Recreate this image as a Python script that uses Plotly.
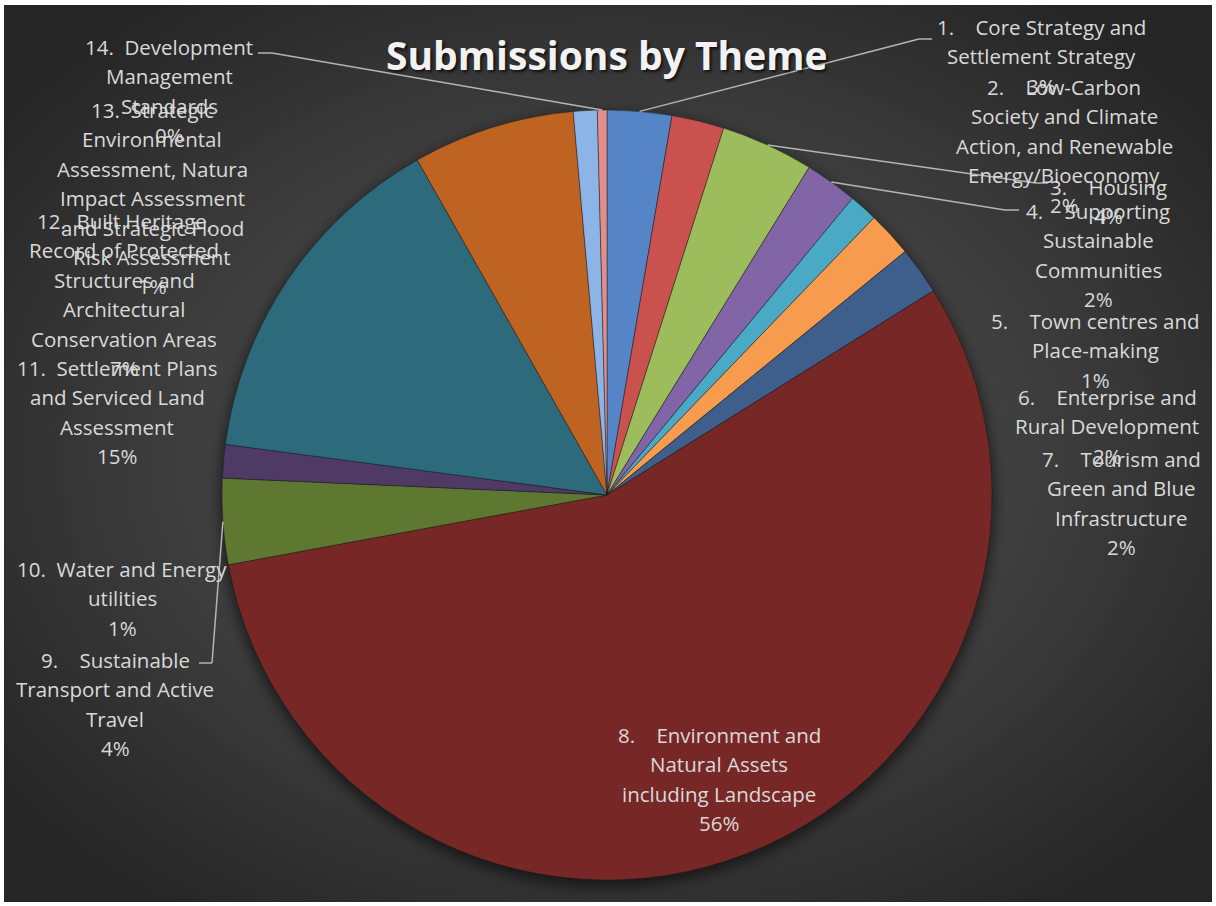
import base64
import math
import plotly.graph_objects as go

# ---------------- data ----------------
categories = [
    "1. Core Strategy and Settlement Strategy",
    "2. Low-Carbon Society and Climate Action, and Renewable Energy/Bioeconomy",
    "3. Housing",
    "4. Supporting Sustainable Communities",
    "5. Town centres and Place-making",
    "6. Enterprise and Rural Development",
    "7. Tourism and Green and Blue Infrastructure",
    "8. Environment and Natural Assets including Landscape",
    "9. Sustainable Transport and Active Travel",
    "10. Water and Energy utilities",
    "11. Settlement Plans and Serviced Land Assessment",
    "12. Built Heritage, Record of Protected Structures and Architectural Conservation Areas",
    "13. Strategic Environmental Assessment, Natura Impact Assessment and Strategic Flood Risk Assessment",
    "14. Development Management Standards",
]
submissions = [27, 22, 39, 22, 12, 19, 20, 560, 36, 14, 147, 68, 10, 4]
title_text = "Submissions by Theme"

# ---------------- styling / layout ----------------
W, H = 1216, 906
NB = "\u00a0"
slice_colors = ["#5585C6", "#C9524F", "#9DBD5C", "#8265A6", "#4AAAC6", "#F79C4E",
                "#3E5F8C", "#772826", "#5E7832", "#4E3A65", "#2C6A7C", "#BF6322",
                "#8DB4E6", "#E38E8C"]

# wrapped label lines (as Excel wrapped them)
label_lines = [
    ["1." + NB * 4 + "Core Strategy and", "Settlement Strategy"],
    ["2." + NB * 4 + "Low-Carbon", "Society and Climate", "Action, and Renewable", "Energy/Bioeconomy"],
    ["3." + NB * 4 + "Housing"],
    ["4." + NB * 4 + "Supporting", "Sustainable", "Communities"],
    ["5." + NB * 4 + "Town centres and", "Place-making"],
    ["6." + NB * 4 + "Enterprise and", "Rural Development"],
    ["7." + NB * 4 + "Tourism and", "Green and Blue", "Infrastructure"],
    ["8." + NB * 4 + "Environment and", "Natural Assets", "including Landscape"],
    ["9." + NB * 4 + "Sustainable", "Transport and Active", "Travel"],
    ["10." + NB * 2 + "Water and Energy", "utilities"],
    ["11." + NB * 2 + "Settlement Plans", "and Serviced Land", "Assessment"],
    ["12." + NB * 2 + "Built Heritage,", "Record of Protected", "Structures and", "Architectural",
     "Conservation Areas"],
    ["13." + NB * 2 + "Strategic", "Environmental", "Assessment, Natura", "Impact Assessment",
     "and Strategic Flood", "Risk Assessment"],
    ["14." + NB * 2 + "Development", "Management", "Standards"],
]
# label placement in pixels: (center x, first line center y)
label_pos = [(1041, 27), (1064, 87), (1108, 187), (1098, 211), (1095, 321), (1107, 397),
             (1121, 459), (719, 735), (115, 660), (122, 569), (117, 368), (124, 221),
             (152, 110), (169, 47)]
line_gap = 29.4
# leader line anchor points near labels (pixels), drawn from slice edge
leaders = {
    13: [(272, 53), (258, 53)],
    0: [(919, 39), (932, 39)],
    2: [(1036, 183), (1048, 183)],
    3: [(1005, 210), (1019, 210)],
    8: [(212, 663), (199, 663)],
}

# pie geometry in pixels
PCX, PCY, PR = 607, 495, 385
dom_x = [(PCX - PR) / W, (PCX + PR) / W]
dom_y = [1 - (PCY + PR) / H, 1 - (PCY - PR) / H]


def px(x):
    return x / W


def py(y):
    return 1 - y / H


# background: radial gradient + soft pie shadow (as svg image)
svg = f"""<svg xmlns='http://www.w3.org/2000/svg' width='{W}' height='{H}' viewBox='0 0 {W} {H}'>
<defs>
<radialGradient id='g' cx='0.5' cy='0.5' r='0.62'>
<stop offset='0' stop-color='#4b4b4b'/>
<stop offset='0.55' stop-color='#3f3f3f'/>
<stop offset='1' stop-color='#262626'/>
</radialGradient>
<filter id='b' x='-20%' y='-20%' width='140%' height='140%'><feGaussianBlur stdDeviation='7'/></filter>
</defs>
<rect x='4' y='5' width='{W - 8}' height='{H - 9}' fill='url(#g)'/>
<circle cx='{PCX}' cy='{PCY + 5}' r='{PR + 2}' fill='#000' opacity='0.55' filter='url(#b)'/>
</svg>"""
bg_src = "data:image/svg+xml;base64," + base64.b64encode(svg.encode()).decode()

fig = go.Figure()
fig.add_trace(go.Pie(
    labels=categories,
    values=submissions,
    sort=False,
    direction="clockwise",
    rotation=0,
    textinfo="none",
    hoverinfo="label+percent",
    marker=dict(colors=slice_colors, line=dict(color="rgba(25,25,25,0.45)", width=1)),
    domain=dict(x=dom_x, y=dom_y),
    showlegend=False,
))

total = sum(submissions)
annotations = []
label_font = dict(family="Open Sans", size=20.5, color="#D9D9D9")
for i, lines in enumerate(label_lines):
    pct = f"{round(100 * submissions[i] / total)}%"
    cx, y0 = label_pos[i]
    for k, t in enumerate(lines + [pct]):
        annotations.append(dict(
            x=px(cx), y=py(y0 + k * line_gap), xref="paper", yref="paper",
            text=t, showarrow=False, xanchor="center", yanchor="middle",
            font=label_font,
        ))

annotations.append(dict(
    x=px(607), y=py(55), xref="paper", yref="paper", text=f"<b>{title_text}</b>",
    showarrow=False, xanchor="center", yanchor="middle",
    font=dict(family="Open Sans", size=39, color="#F2F2F2", shadow="2px 2px 3px rgba(0,0,0,0.7)"),
))

# leader lines from slice mid-angle on the rim to label anchors
shapes = []
cum = 0
mids = []
for v in submissions:
    mids.append((cum + v / 2) / total * 360)
    cum += v
for idx, pts in leaders.items():
    a = math.radians(mids[idx])
    sx = PCX + PR * math.sin(a)
    sy = PCY - PR * math.cos(a)
    path_pts = [(sx, sy)] + pts
    for (x0, y0), (x1, y1) in zip(path_pts[:-1], path_pts[1:]):
        shapes.append(dict(type="line", xref="paper", yref="paper",
                           x0=px(x0), y0=py(y0), x1=px(x1), y1=py(y1),
                           line=dict(color="#B5B5B5", width=1.5), layer="above"))

fig.update_layout(
    width=W, height=H,
    margin=dict(l=0, r=0, t=0, b=0),
    paper_bgcolor="white",
    plot_bgcolor="rgba(0,0,0,0)",
    images=[dict(source=bg_src, xref="paper", yref="paper", x=0, y=1,
                 sizex=1, sizey=1, xanchor="left", yanchor="top",
                 sizing="stretch", layer="below")],
    annotations=annotations,
    shapes=shapes,
)

fig.write_html("out.html")
